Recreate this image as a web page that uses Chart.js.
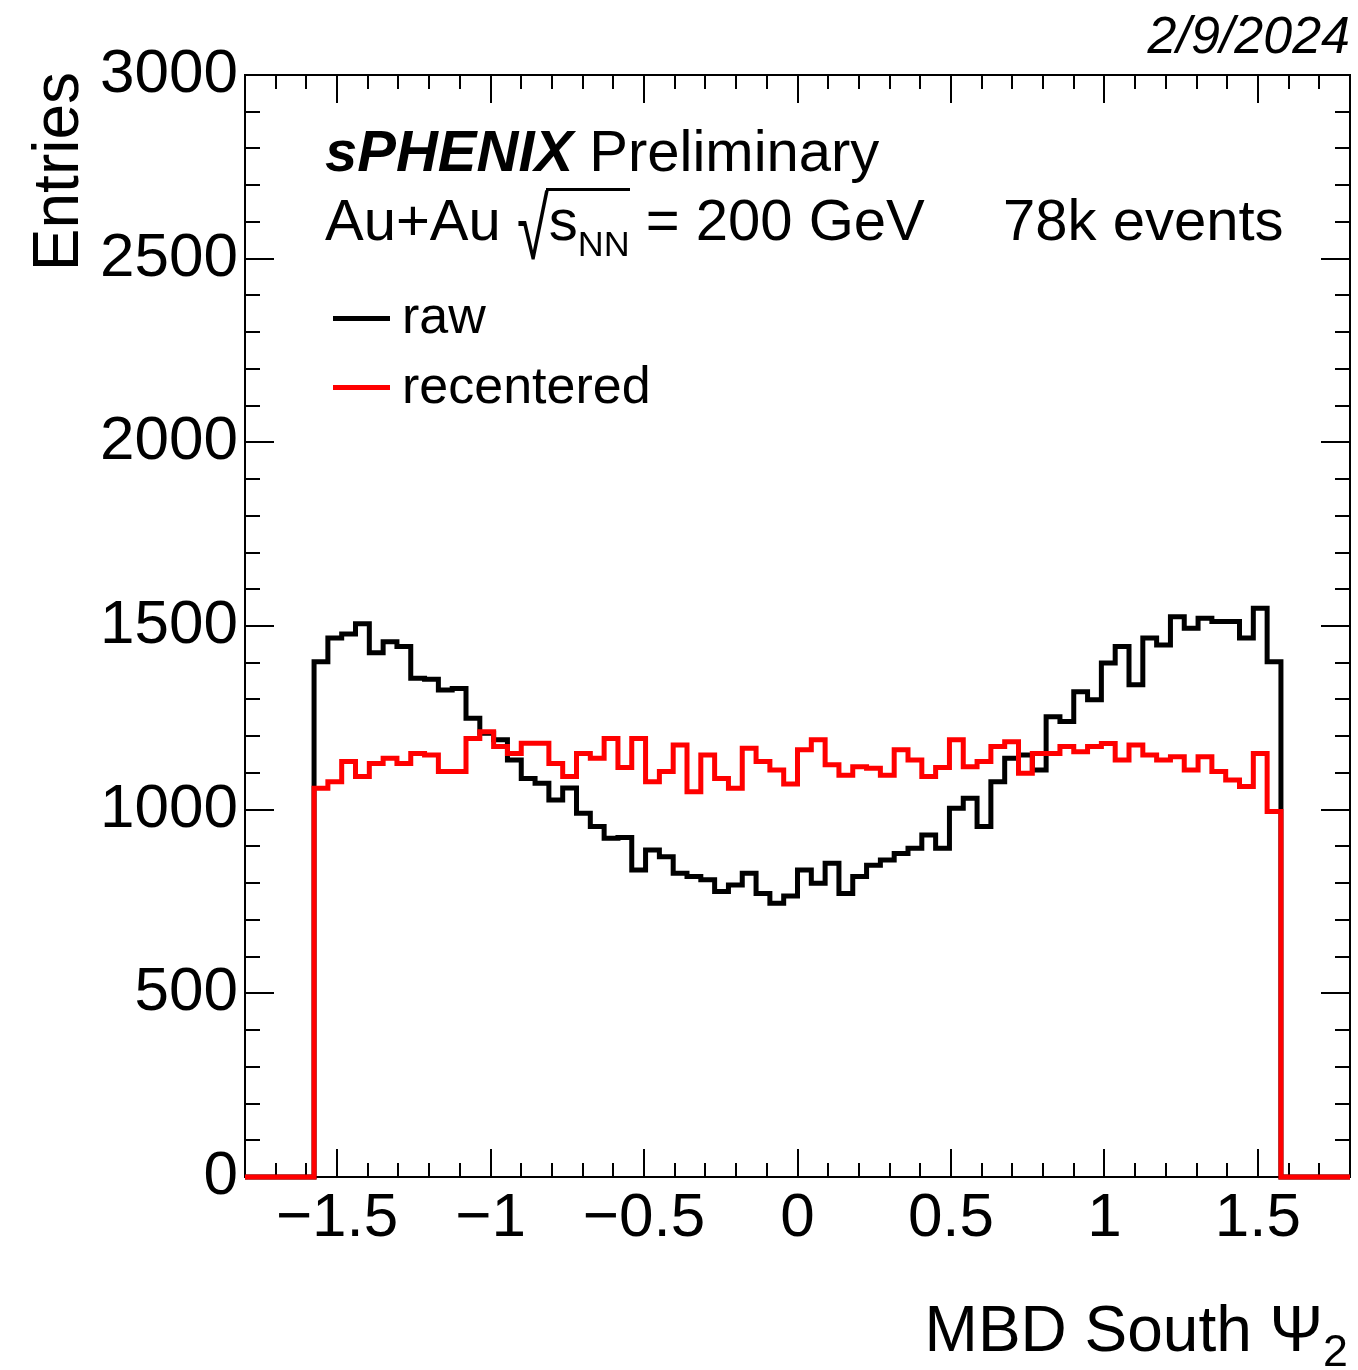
<!DOCTYPE html>
<html>
<head>
  <meta charset="UTF-8">
  <title>MBD South Psi2 - sPHENIX Preliminary</title>
  <script src="https://cdn.jsdelivr.net/npm/chart.js"></script>
  <style>
    body { margin: 0; background: #fff; }
    #wrap {
      position: relative; width: 1358px; height: 1370px;
      font-family: "Liberation Sans", Arial, Helvetica, sans-serif; color: #000;
    }
    #wrap canvas { position: absolute; left: 0; top: 0; }
    .txt { position: absolute; white-space: nowrap; line-height: 1; }
    .key { position: absolute; left: 333px; width: 57px; height: 5px; }
    .rad { display: inline-block; transform: scale(1, 1.5); transform-origin: 50% 18%; }
    .ovl { position: relative; }
    .ovl::before { content: ''; position: absolute; left: -3px; right: 0; top: 1px; border-top: 3px solid #000; }
    .ovl sub { font-size: 0.62em; vertical-align: -16px; line-height: 0; }
    #xtitle sub { font-size: 0.7em; vertical-align: -15px; line-height: 0; }
  </style>
</head>
<body>
<div id="wrap">
  <canvas id="psi2-chart" width="1358" height="1370"></canvas>

  <!-- texts drawn on top of the canvas -->
  <div class="txt" style="right:8px; top:9px; font-size:52px; font-style:italic;">2/9/2024</div>
  <div class="txt" style="left:325px; top:122px; font-size:58px;"><b><i>sPHENIX</i></b> Preliminary</div>
  <div class="txt" style="left:325px; top:191px; font-size:58px;">Au+Au <span class="rad">√</span><span class="ovl">s<sub>NN</sub></span> = 200 GeV</div>
  <div class="txt" style="left:1003px; top:191px; font-size:58px;">78k events</div>

  <!-- legend -->
  <div class="key" style="top:316px; background:#000;"></div>
  <div class="txt" style="left:402px; top:289px; font-size:52px;">raw</div>
  <div class="key" style="top:385px; background:#ff0000;"></div>
  <div class="txt" style="left:402px; top:359px; font-size:52px;">recentered</div>

  <!-- axis titles -->
  <div id="xtitle" class="txt" style="right:10px; top:1297px; font-size:64px;">MBD South Ψ<sub>2</sub></div>
  <div class="txt" style="left:24px; top:472px; width:400px; text-align:right; font-size:64px; transform-origin:top left; transform:rotate(-90deg);">Entries</div>
</div>

<script>
  // histogram binning (ROOT style, 80 bins from -1.8 to 1.8)
  const xMin = -1.8;
  const xMax = 1.8;
  const nBins = 80;
  const firstFilledBin = 5; // bins 5..74 hold the data (-pi/2 .. pi/2)

  // bin contents
  const rawCounts = [
    1403, 1467, 1478, 1506, 1427, 1457, 1444, 1358, 1355, 1326,
    1330, 1249, 1208, 1190, 1135, 1085, 1072, 1026, 1059, 990,
    954, 922, 924, 836, 890, 872, 827, 818, 809, 777,
    795, 827, 772, 745, 765, 836, 800, 854, 772, 818,
    849, 863, 881, 895, 931, 895, 1004, 1031, 954, 1076,
    1140, 1149, 1108, 1253, 1240, 1321, 1299, 1399, 1444, 1340,
    1467, 1448, 1525, 1494, 1521, 1512, 1512, 1467, 1548, 1403
  ];
  const recenteredCounts = [
    1058, 1076, 1131, 1090, 1126, 1140, 1126, 1153, 1149, 1104,
    1104, 1194, 1212, 1172, 1153, 1181, 1181, 1126, 1090, 1153,
    1140, 1194, 1115, 1194, 1076, 1104, 1176, 1049, 1149, 1085,
    1058, 1167, 1131, 1108, 1070, 1163, 1190, 1122, 1094, 1117,
    1113, 1094, 1163, 1135, 1090, 1115, 1190, 1117, 1131, 1172,
    1185, 1099, 1153, 1153, 1172, 1158, 1172, 1180, 1135, 1176,
    1149, 1135, 1144, 1108, 1144, 1104, 1081, 1063, 1153, 995
  ];

  // axis ticks
  const xMajorTicks = [-1.5, -1, -0.5, 0, 0.5, 1, 1.5];
  const yMajorTicks = [0, 500, 1000, 1500, 2000, 2500, 3000];
  const xMinorStep = 0.1;
  const yMinorStep = 100;

  // turn bin contents into step points at the bin low edges
  function histPoints(counts) {
    const w = (xMax - xMin) / nBins;
    const pts = [];
    for (let i = 0; i < nBins; i++) {
      const k = i - firstFilledBin;
      const val = (k >= 0 && k < counts.length) ? counts[k] : 0;
      pts.push({ x: xMin + i * w, y: val });
    }
    pts.push({ x: xMax, y: pts[pts.length - 1].y });
    return pts;
  }

  // frame + inward ticks on all four sides, like ROOT
  const rootFrame = {
    id: 'rootFrame',
    beforeDatasetsDraw(chart) {
      const { ctx, chartArea: a, scales: { x, y } } = chart;
      ctx.save();
      ctx.strokeStyle = '#000';
      ctx.lineWidth = 2;
      ctx.strokeRect(a.left, a.top, a.right - a.left, a.bottom - a.top);
      ctx.beginPath();
      const nx = Math.round((xMax - xMin) / xMinorStep);
      for (let i = 1; i < nx; i++) {
        const v = xMin + i * xMinorStep;
        const major = xMajorTicks.some(t => Math.abs(t - v) < 1e-6);
        const len = major ? 28 : 14;
        const px = Math.round(x.getPixelForValue(v));
        ctx.moveTo(px, a.bottom); ctx.lineTo(px, a.bottom - len);
        ctx.moveTo(px, a.top); ctx.lineTo(px, a.top + len);
      }
      const ny = Math.round(3000 / yMinorStep);
      for (let i = 1; i < ny; i++) {
        const v = i * yMinorStep;
        const major = yMajorTicks.includes(v);
        const len = major ? 29 : 15;
        const py = Math.round(y.getPixelForValue(v));
        ctx.moveTo(a.left, py); ctx.lineTo(a.left + len, py);
        ctx.moveTo(a.right, py); ctx.lineTo(a.right - len, py);
      }
      ctx.stroke();
      ctx.restore();
    }
  };

  const tickFont = { family: '"Liberation Sans", Arial, Helvetica, sans-serif', size: 62, lineHeight: 1.2 };

  const ctx = document.getElementById('psi2-chart').getContext('2d');
  new Chart(ctx, {
    type: 'line',
    data: {
      datasets: [
        {
          label: 'raw',
          data: histPoints(rawCounts),
          borderColor: '#000000',
          borderWidth: 5,
          stepped: 'before',
          pointRadius: 0,
          fill: false,
          clip: false,
          order: 2
        },
        {
          label: 'recentered',
          data: histPoints(recenteredCounts),
          borderColor: '#ff0000',
          borderWidth: 5,
          stepped: 'before',
          pointRadius: 0,
          fill: false,
          clip: false,
          order: 1
        }
      ]
    },
    options: {
      responsive: false,
      animation: false,
      layout: { padding: { top: 75, right: 8, left: 0, bottom: 0 } },
      plugins: { legend: { display: false }, tooltip: { enabled: false } },
      scales: {
        x: {
          type: 'linear',
          min: xMin,
          max: xMax,
          afterBuildTicks: s => { s.ticks = xMajorTicks.map(v => ({ value: v })); },
          afterFit: s => { s.height = 193; },
          grid: { display: false, drawTicks: false },
          border: { display: false },
          ticks: {
            padding: 5,
            color: '#000',
            font: tickFont,
            maxRotation: 0,
            autoSkip: false,
            callback: v => (v < 0 ? '\u2212' : '') + Math.abs(v)
          }
        },
        y: {
          min: 0,
          max: 3000,
          afterBuildTicks: s => { s.ticks = yMajorTicks.map(v => ({ value: v })); },
          afterFit: s => { s.width = 245; },
          grid: { display: false, drawTicks: false },
          border: { display: false },
          ticks: {
            padding: 7,
            color: '#000',
            font: tickFont,
            autoSkip: false,
            callback: v => String(v)
          }
        }
      }
    },
    plugins: [rootFrame]
  });
</script>
</body>
</html>
